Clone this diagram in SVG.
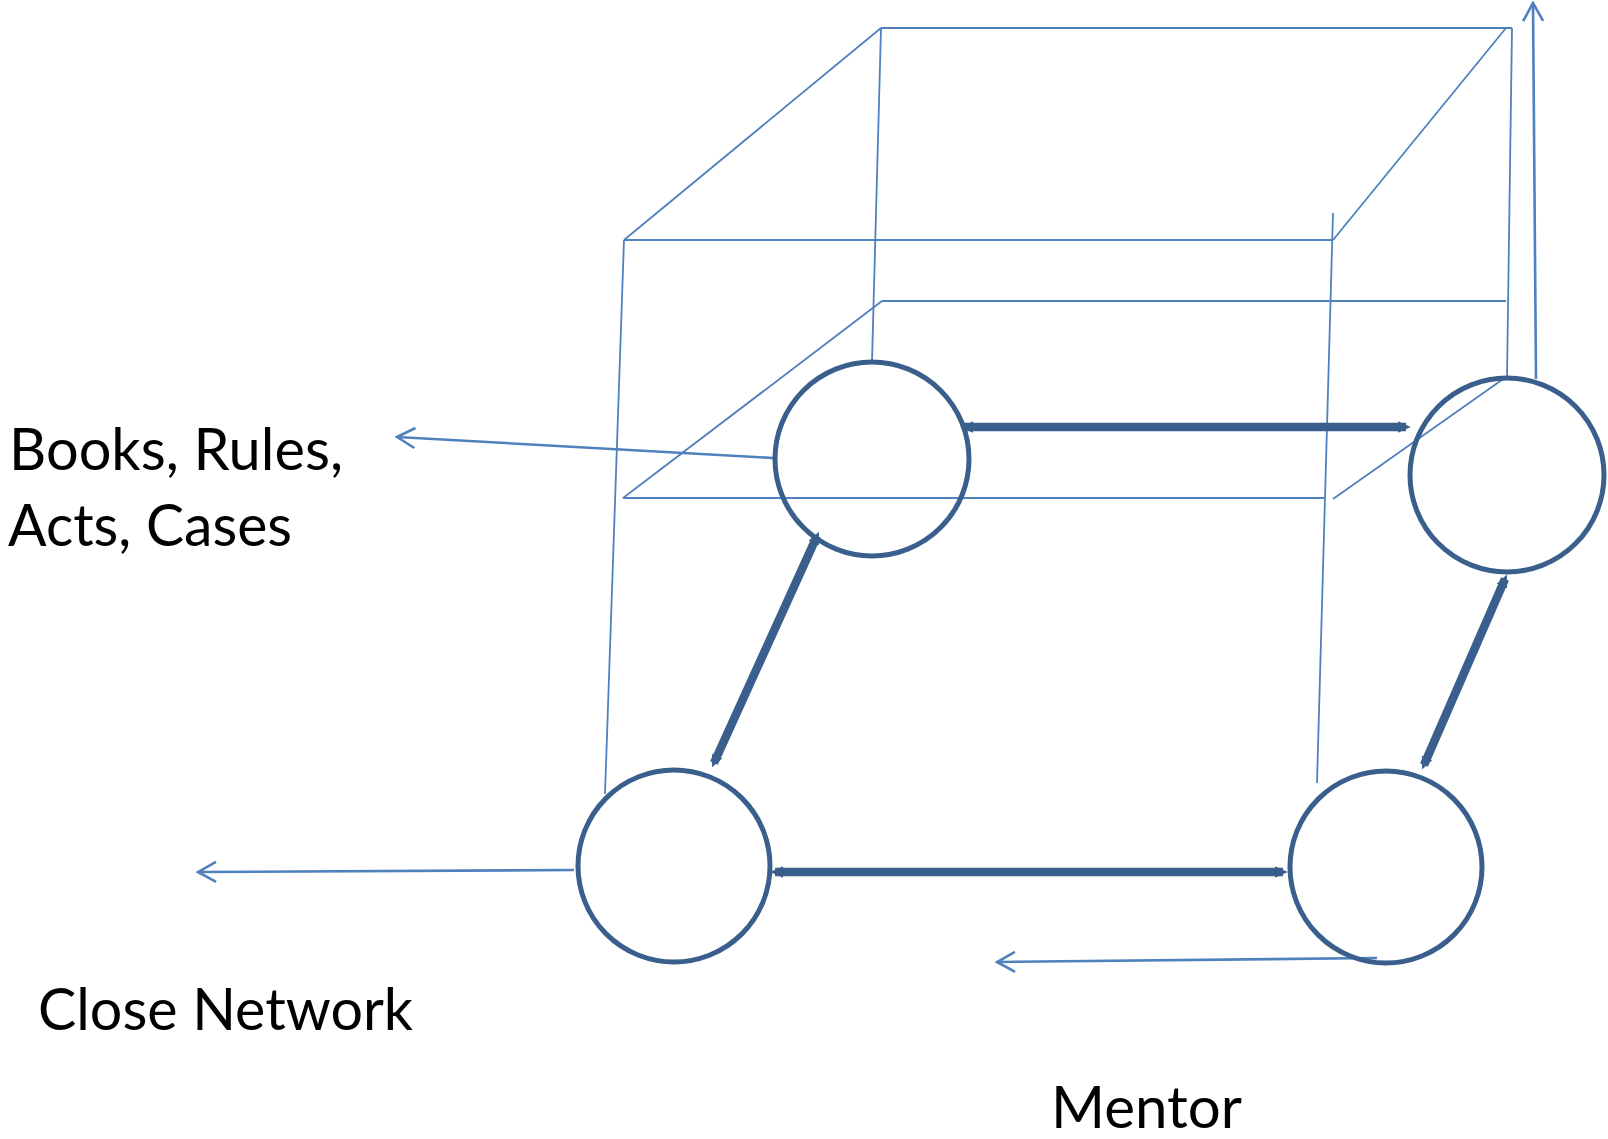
<svg xmlns="http://www.w3.org/2000/svg" width="1608" height="1139" viewBox="0 0 1608 1139">
  <defs>
    <style>
      .edge { fill: none; stroke: #4F81BD; stroke-width: 1.8; }
      .out { fill: none; stroke: #4F81BD; stroke-width: 2.6; marker-end: url(#open); }
      .link { fill: none; stroke: #3A5F8C; stroke-width: 8.5; marker-start: url(#tip); marker-end: url(#tip); }
      .node { fill: none; stroke: #3A5F8C; stroke-width: 5; }
      .lbl { font-family: Lato, "Open Sans", "Liberation Sans", sans-serif; font-size: 58px; fill: #000; }
    </style>
    <marker id="open" viewBox="0 0 24 24" refX="22" refY="12" markerWidth="24" markerHeight="24" markerUnits="userSpaceOnUse" orient="auto">
      <path d="M4,2 L22,12 L4,22" fill="none" stroke="#4F81BD" stroke-width="2.6"/>
    </marker>
    <marker id="tip" viewBox="0 0 4 4" refX="2.5" refY="2" markerWidth="1.5" markerHeight="1.5" markerUnits="strokeWidth" orient="auto-start-reverse">
      <path d="M0,0.2 L4,2 L0,3.8 z" fill="#3A5F8C"/>
    </marker>
  </defs>
  <rect width="1608" height="1139" fill="#fff"/>

  <g id="cube">
    <line class="edge" x1="881" y1="28" x2="1512" y2="28"/>
    <line class="edge" x1="881" y1="28" x2="624" y2="240"/>
    <line class="edge" x1="1506" y1="28" x2="1333" y2="240"/>
    <line class="edge" x1="624" y1="240" x2="1333" y2="240"/>
    <line class="edge" x1="881" y1="28" x2="872" y2="362"/>
    <line class="edge" x1="1512" y1="28" x2="1507" y2="378"/>
    <line class="edge" x1="624" y1="240" x2="605" y2="794"/>
    <line class="edge" x1="1333" y1="213" x2="1317" y2="783"/>
    <line class="edge" x1="882" y1="301" x2="1506" y2="301"/>
    <line class="edge" x1="882" y1="301" x2="623" y2="498"/>
    <line class="edge" x1="623" y1="498" x2="1324" y2="498"/>
    <line class="edge" x1="1506" y1="377" x2="1333" y2="499"/>
  </g>

  <g id="connectors">
    <line class="out" x1="773" y1="458" x2="397" y2="437"/>
    <line class="out" x1="574" y1="870" x2="198" y2="872"/>
    <line class="out" x1="1377" y1="958" x2="997" y2="962"/>
    <line class="out" x1="1536" y1="379" x2="1533" y2="3"/>
    <line class="link" x1="965" y1="427" x2="1406" y2="427"/>
    <line class="link" x1="817" y1="536" x2="714" y2="763"/>
    <line class="link" x1="1424" y1="765" x2="1505" y2="579"/>
    <line class="link" x1="775" y1="872" x2="1283" y2="872"/>
  </g>

  <g id="node-books">
    <circle class="node" cx="872" cy="459" r="97"/>
  </g>
  <g id="node-top-right">
    <circle class="node" cx="1507" cy="475" r="97"/>
  </g>
  <g id="node-close-network">
    <circle class="node" cx="674" cy="866" r="96"/>
  </g>
  <g id="node-mentor">
    <circle class="node" cx="1386" cy="867" r="96"/>
  </g>

  <g id="labels">
    <text class="lbl" x="9" y="470" textLength="334" lengthAdjust="spacingAndGlyphs">Books, Rules,</text>
    <text class="lbl" x="8" y="546" textLength="284" lengthAdjust="spacingAndGlyphs">Acts, Cases</text>
    <text class="lbl" x="38" y="1030" textLength="375" lengthAdjust="spacingAndGlyphs">Close Network</text>
    <text class="lbl" x="1051" y="1128" textLength="191" lengthAdjust="spacingAndGlyphs">Mentor</text>
  </g>
</svg>
